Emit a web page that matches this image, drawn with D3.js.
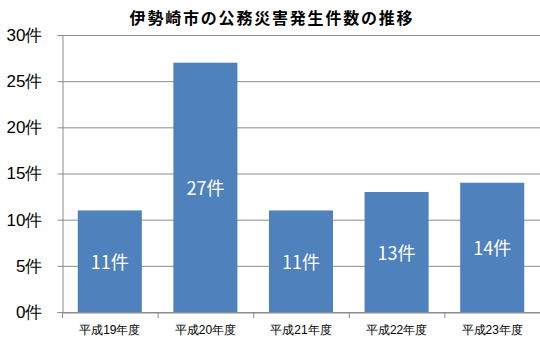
<!DOCTYPE html>
<html>
<head>
<meta charset="utf-8">
<script src="https://cdn.jsdelivr.net/npm/d3@7"></script>
<style>
  body { margin: 0; background: #fff; }
  svg { display: block; font-family: "Noto Sans CJK JP", sans-serif; }
</style>
</head>
<body>
<svg width="540" height="341"></svg>
<script>
// data
var years = ["平成19年度", "平成20年度", "平成21年度", "平成22年度", "平成23年度"];
var counts = [11, 27, 11, 13, 14];
var yTicks = [0, 5, 10, 15, 20, 25, 30];

var svg = d3.select("svg");

var x = d3.scaleBand().domain(years).range([62, 540]).paddingInner(0.33).paddingOuter(0.165);
var y = d3.scaleLinear().domain([0, 30]).range([312, 35]);

// gridlines
svg.append("g")
    .selectAll("line")
    .data(yTicks)
    .enter()
    .append("line")
    .attr("x1", 62)
    .attr("x2", 540)
    .attr("y1", function(d) { return y(d) + 0.5; })
    .attr("y2", function(d) { return y(d) + 0.5; })
    .style("stroke", "#8c8c8c")
    .style("stroke-width", 1);

// bars
svg.append("g")
    .selectAll("rect")
    .data(counts)
    .enter()
    .append("rect")
    .attr("x", function(d, i) { return x(years[i]); })
    .attr("y", function(d) { return y(d); })
    .attr("width", x.bandwidth())
    .attr("height", function(d) { return y(0) - y(d); })
    .style("fill", "#4f81bd");

// y axis
var yAxis = svg.append("g")
    .attr("transform", "translate(62.5,0)")
    .call(d3.axisLeft(y).tickValues(yTicks).tickSize(5).tickFormat(function(d) { return d + "件"; }));
yAxis.select(".domain").attr("stroke", "#8c8c8c");
yAxis.selectAll(".tick line").attr("stroke", "#8c8c8c");
yAxis.selectAll("text")
    .attr("x", -20)
    .style("font-size", "17px")
    .style("fill", "#000");

// x axis
var xAxis = svg.append("g")
    .attr("transform", "translate(0,312.5)")
    .call(d3.axisBottom(x).tickSize(0));
xAxis.select(".domain").attr("stroke", "#8c8c8c");
xAxis.selectAll("text")
    .attr("dy", "0")
    .attr("y", 21)
    .style("font-size", "12px")
    .style("fill", "#000");

// category separator ticks
var bounds = [62 + 0.5];
years.forEach(function(d) { bounds.push(x(d) + x.bandwidth() + x.step() * 0.165 + 0.5); });
svg.append("g")
    .selectAll("line")
    .data(bounds)
    .enter()
    .append("line")
    .attr("x1", function(d) { return d; })
    .attr("x2", function(d) { return d; })
    .attr("y1", 312)
    .attr("y2", 318)
    .style("stroke", "#8c8c8c");

// value labels
svg.append("g")
    .selectAll("text")
    .data(counts)
    .enter()
    .append("text")
    .attr("x", function(d, i) { return x(years[i]) + x.bandwidth() / 2; })
    .attr("y", function(d) { return y(d / 2); })
    .attr("text-anchor", "middle")
    .attr("dominant-baseline", "central")
    .style("font-size", "18px")
    .style("fill", "#fff")
    .text(function(d) { return d + "件"; });

// title
svg.append("text")
    .attr("x", 272)
    .attr("y", 17)
    .attr("text-anchor", "middle")
    .attr("dominant-baseline", "central")
    .style("font-size", "16px")
    .style("letter-spacing", "1.8px")
    .style("font-weight", "bold")
    .text("伊勢崎市の公務災害発生件数の推移");
</script>
</body>
</html>
